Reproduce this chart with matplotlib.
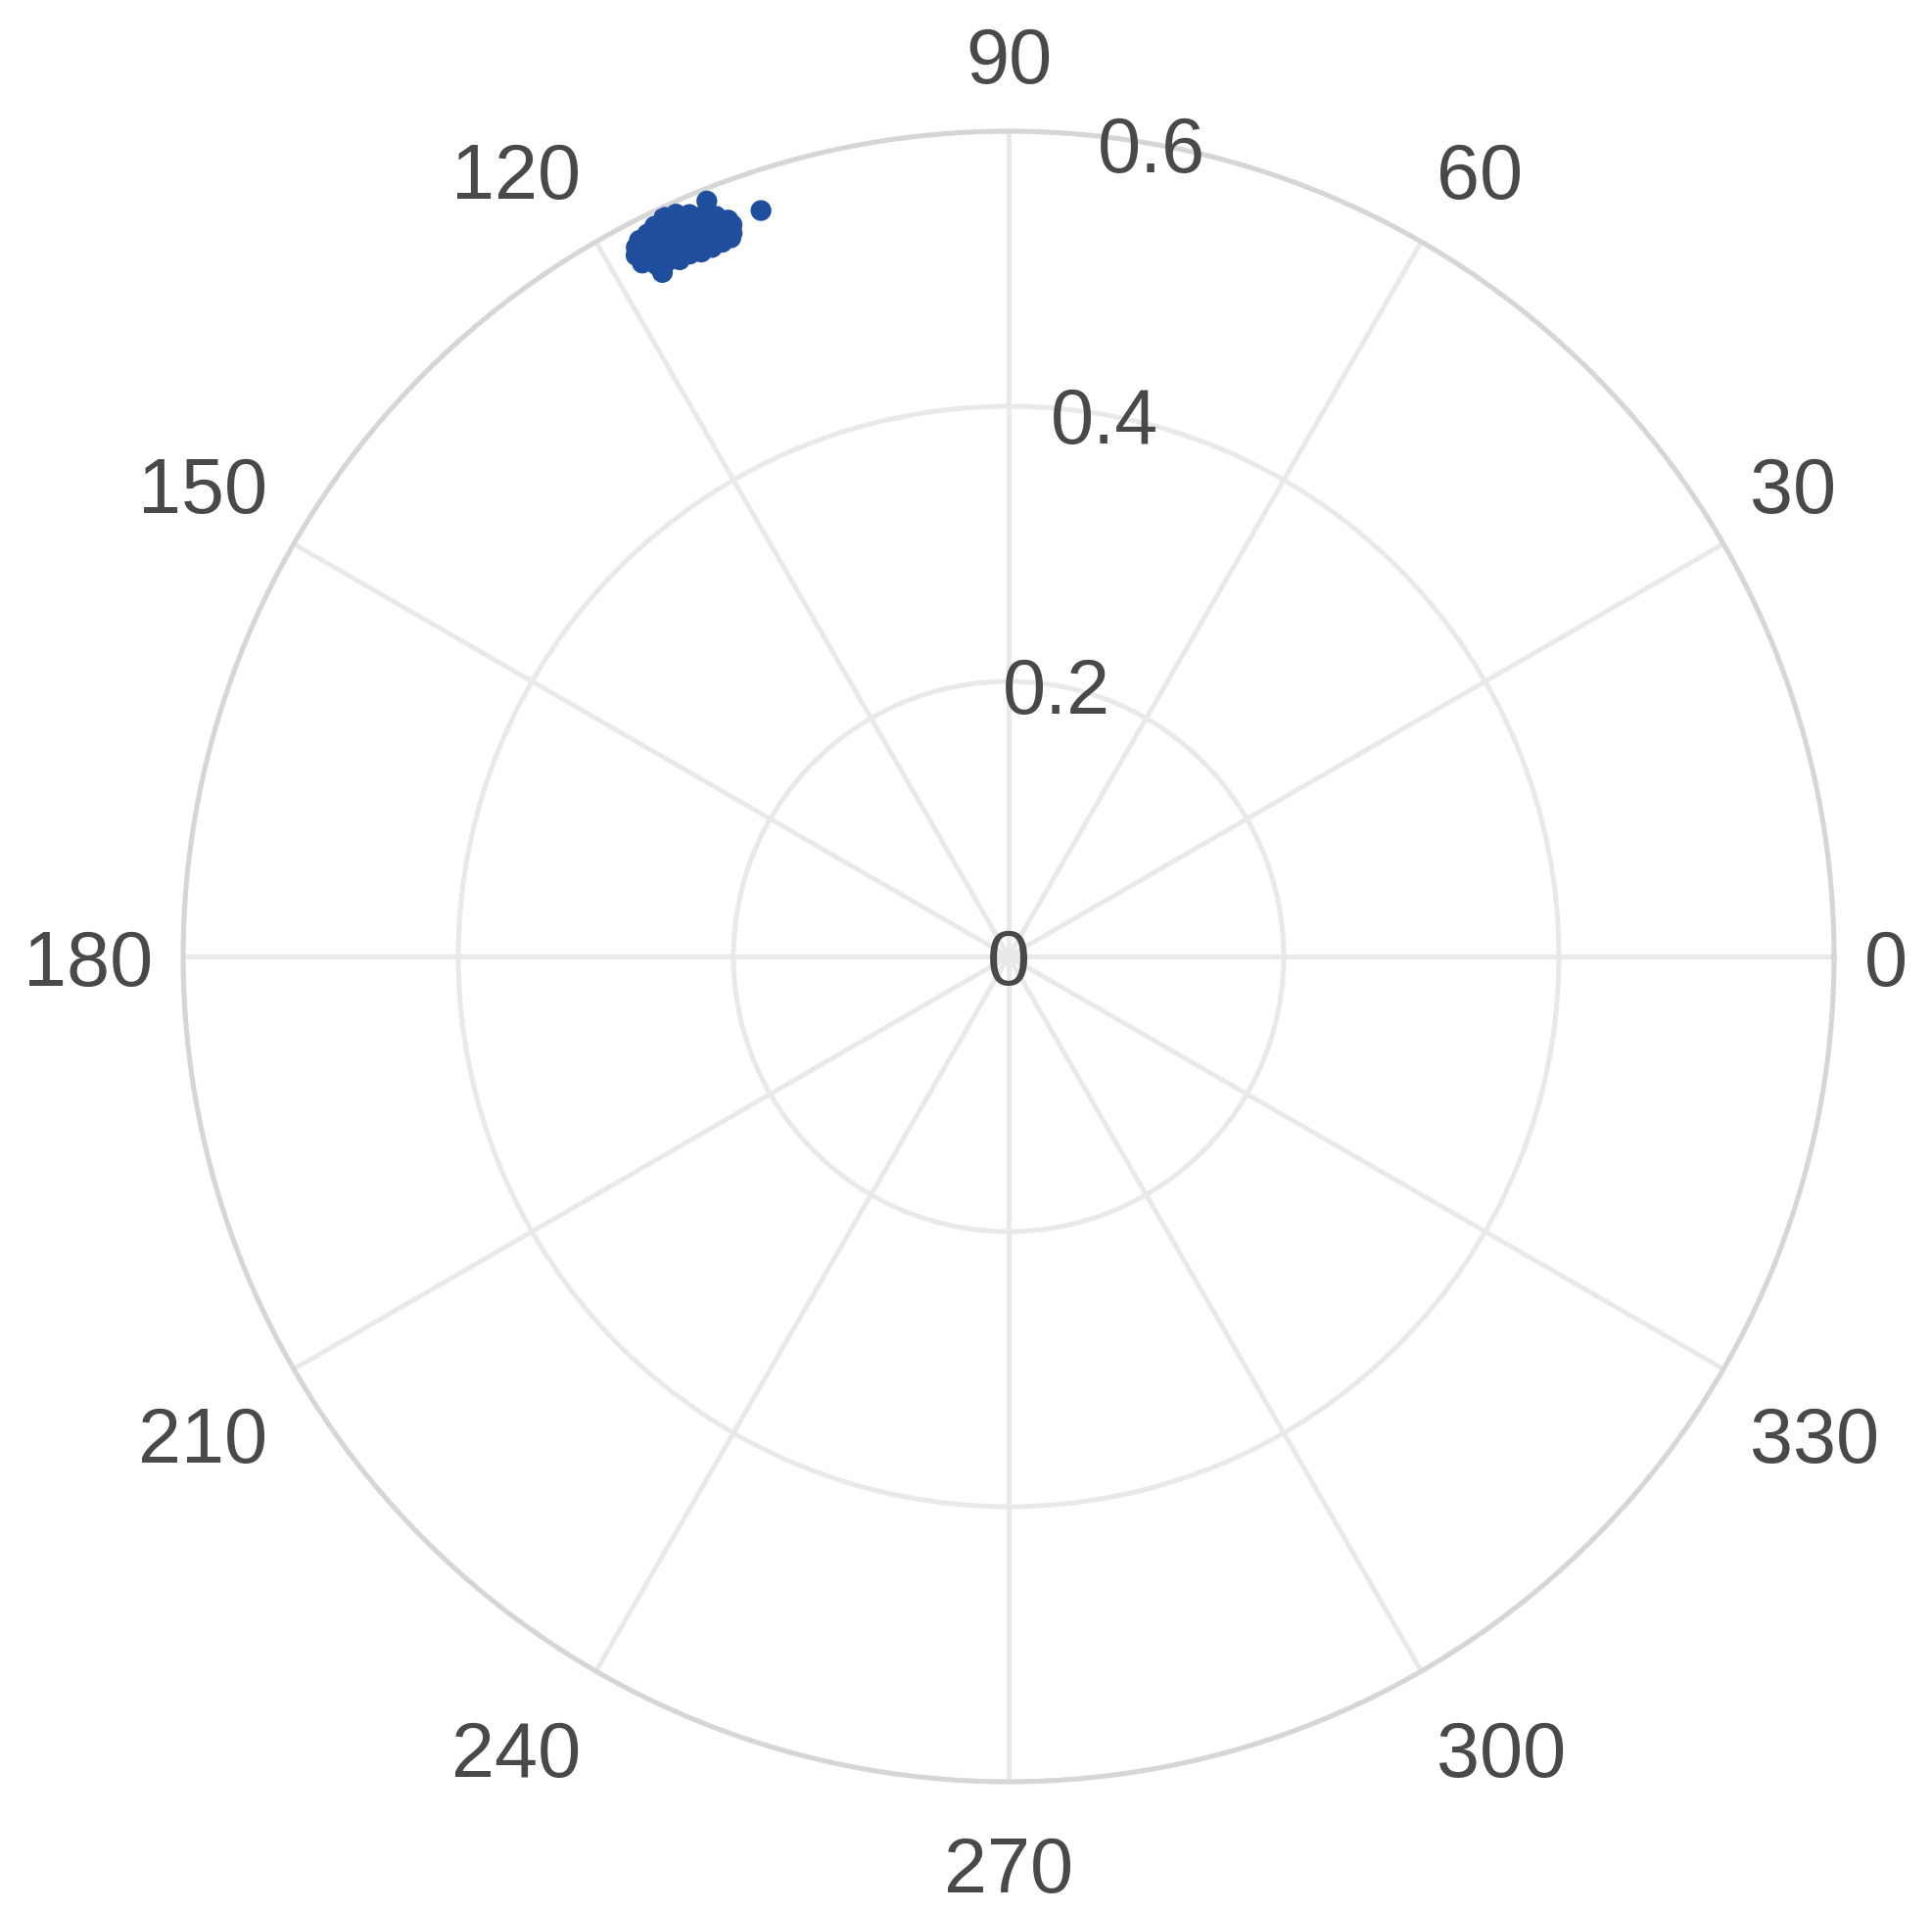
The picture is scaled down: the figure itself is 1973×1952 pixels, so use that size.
import numpy as np
import matplotlib.pyplot as plt

plt.rcParams['font.family'] = ['Liberation Sans', 'DejaVu Sans']

# ------------------ Data (angle in degrees, radius) ------------------
theta_deg = [117.98, 117.70, 117.84, 117.48, 117.27, 117.13, 116.98, 116.84,
             116.55, 116.41, 116.27, 116.13, 115.84, 115.70, 115.56, 115.41,
             115.27, 114.98, 114.84, 114.70, 114.56, 114.41, 114.13, 113.98,
             113.84, 113.70, 113.56, 113.27, 113.13, 112.98, 112.84, 112.70,
             111.77, 112.27, 112.13, 111.99, 111.84, 111.56, 111.41, 111.27,
             111.13, 110.84, 110.70, 110.91, 108.36]
radius = [0.5772, 0.5822, 0.5701, 0.5715, 0.5857, 0.5772, 0.5644, 0.5573,
          0.5872, 0.5800, 0.5715, 0.5630, 0.5900, 0.5822, 0.5743, 0.5658,
          0.5601, 0.5929, 0.5857, 0.5772, 0.5687, 0.5608, 0.5914, 0.5843,
          0.5758, 0.5672, 0.5587, 0.5872, 0.5800, 0.5715, 0.5630, 0.5587,
          0.5914, 0.5829, 0.5743, 0.5658, 0.5594, 0.5786, 0.5715, 0.5644,
          0.5601, 0.5729, 0.5687, 0.5630, 0.5714]

r_ticks = [0, 0.2, 0.4, 0.6]
r_tick_labels = ["0", "0.2", "0.4", "0.6"]
theta_ticks = list(range(0, 360, 30))

text_color = "#4b4948"
px = 72 / 300  # one output pixel in points

# ------------------ Plot ------------------
fig = plt.figure(figsize=(1973 / 300, 1952 / 300), dpi=300)
ax = fig.add_axes([187 / 1973, 132 / 1952, 1686 / 1973, 1686 / 1952], projection="polar")

ax.scatter(np.deg2rad(theta_deg), radius, s=26, color="#1f4e9f", edgecolors="none", zorder=3)

ax.set_ylim(0, 0.6)
ax.set_yticks(r_ticks)
ax.set_yticklabels([])
ax.set_xticks(np.deg2rad(theta_ticks))
ax.set_xticklabels([])
ax.tick_params(length=0)

ax.grid(True, color="#e8e9e8", linewidth=1.2)
ax.spines["polar"].set_color("#d6d6d6")
ax.spines["polar"].set_linewidth(1.2)

# radial labels along the 80 degree direction
for r, lab in zip(r_ticks, r_tick_labels):
    ax.text(np.deg2rad(80), r, lab, ha="center", va="center_baseline", fontsize=19,
            color=text_color, zorder=4)

# angular labels outside the circle
for t in theta_ticks:
    rad = np.deg2rad(t)
    c, s = np.cos(rad), np.sin(rad)
    if abs(c) < 0.1:
        ha = "center"
    else:
        ha = "left" if c > 0 else "right"
    if s > 0.1:
        extra = 14
    elif s < -0.1:
        extra = -78
    else:
        extra = -30
    ax.annotate(str(t), xy=(rad, 0.6), xytext=(c * 31 * px, (s * 35 + extra) * px),
                textcoords="offset points", ha=ha, va="baseline", fontsize=19,
                color=text_color, annotation_clip=False)

fig.savefig("out.png", dpi=300)
